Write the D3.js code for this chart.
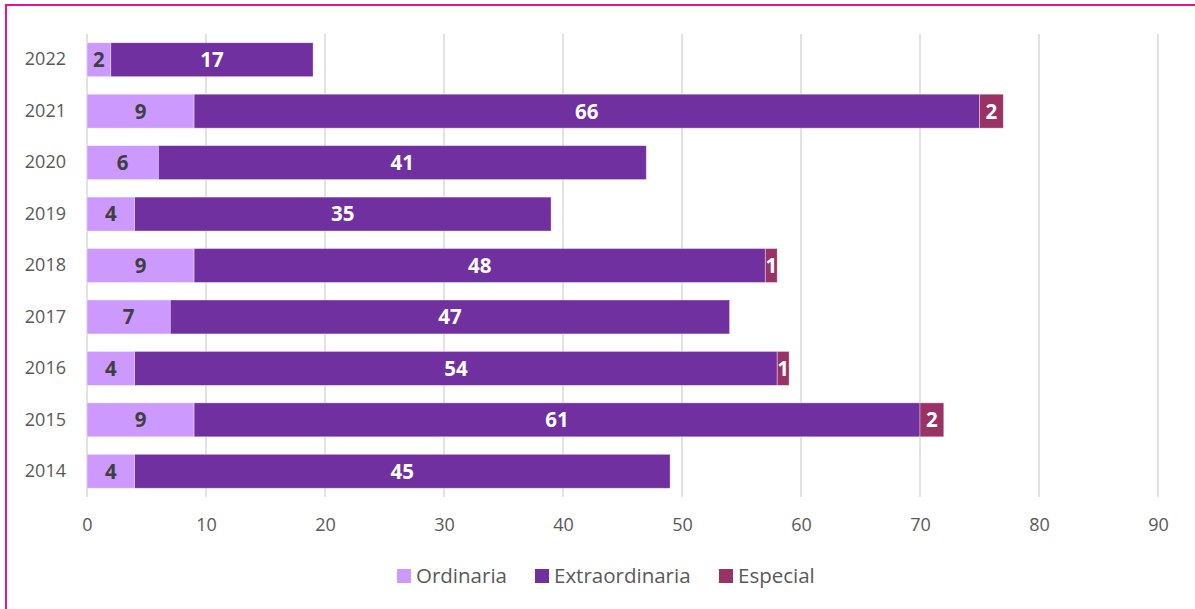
<!DOCTYPE html>
<html>
<head>
<meta charset="utf-8">
<script src="https://cdn.jsdelivr.net/npm/d3@7"></script>
<style>
  body { margin: 0; background: #fff; }
  svg text { font-family: "Open Sans", "Noto Sans", sans-serif; }
</style>
</head>
<body>
<div id="chart"></div>
<script>
var years = ["2022", "2021", "2020", "2019", "2018", "2017", "2016", "2015", "2014"];
var ordinaria = [2, 9, 6, 4, 9, 7, 4, 9, 4];
var extraordinaria = [17, 66, 41, 35, 48, 47, 54, 61, 45];
var especial = [0, 2, 0, 0, 1, 0, 1, 2, 0];
var seriesNames = ["Ordinaria", "Extraordinaria", "Especial"];
var xTicks = [0, 10, 20, 30, 40, 50, 60, 70, 80, 90];

var width = 1195;
var height = 609;
var colors = ["#cc99ff", "#7030a0", "#993366"];
var labelColors = ["#404040", "#ffffff", "#ffffff"];

var svg = d3.select("#chart")
  .append("svg")
  .attr("width", width)
  .attr("height", height);

// chart frame
svg.append("rect")
  .attr("x", 6)
  .attr("y", 5)
  .attr("width", width + 10)
  .attr("height", height + 10)
  .attr("fill", "none")
  .attr("stroke", "#e2149a")
  .attr("stroke-width", 2);

var rows = years.map(function(y, i) {
  return { year: y, Ordinaria: ordinaria[i], Extraordinaria: extraordinaria[i], Especial: especial[i] };
});

var x = d3.scaleLinear().domain([0, 90]).range([87, 1158]);
var y = d3.scaleBand().domain(years).range([34, 497]).paddingInner(0.34).paddingOuter(0.17);

// gridlines
svg.append("g")
  .selectAll("line")
  .data(xTicks)
  .enter()
  .append("line")
  .attr("x1", function(d) { return x(d); })
  .attr("x2", function(d) { return x(d); })
  .attr("y1", 34)
  .attr("y2", 497)
  .attr("stroke", "#d9d9d9")
  .attr("stroke-width", 1.5);

var stack = d3.stack().keys(seriesNames)(rows);

var layers = svg.selectAll("g.layer")
  .data(stack)
  .enter()
  .append("g")
  .attr("class", "layer")
  .attr("fill", function(d, i) { return colors[i]; });

layers.selectAll("rect")
  .data(function(d) { return d; })
  .enter()
  .filter(function(d) { return d[1] > d[0]; })
  .append("rect")
  .attr("x", function(d) { return x(d[0]); })
  .attr("y", function(d) { return y(d.data.year); })
  .attr("width", function(d) { return x(d[1]) - x(d[0]); })
  .attr("height", y.bandwidth())
  .attr("stroke", "#ffffff")
  .attr("stroke-opacity", 0.5)
  .attr("stroke-width", 0.75);

layers.each(function(layer, i) {
  d3.select(this).selectAll("text")
    .data(layer.filter(function(d) { return d[1] > d[0]; }))
    .enter()
    .append("text")
    .attr("x", function(d) { return (x(d[0]) + x(d[1])) / 2; })
    .attr("y", function(d) { return y(d.data.year) + y.bandwidth() / 2; })
    .attr("dy", "0.36em")
    .attr("text-anchor", "middle")
    .style("font-size", "20.5px")
    .style("font-weight", "bold")
    .attr("fill", labelColors[i])
    .text(function(d) { return d[1] - d[0]; });
});

// y axis labels
var yAxis = d3.axisLeft(y).tickSize(0).tickPadding(21);
var gy = svg.append("g")
  .attr("transform", "translate(87,0)")
  .call(yAxis);
gy.select(".domain").remove();
gy.selectAll("text")
  .style("font-size", "18px")
  .style("font-family", "'Open Sans', sans-serif")
  .attr("fill", "#595959");

// x axis labels
var xAxis = d3.axisBottom(x).tickValues(xTicks).tickSize(0).tickPadding(21);
var gx = svg.append("g")
  .attr("transform", "translate(0,497)")
  .call(xAxis);
gx.select(".domain").remove();
gx.selectAll("text")
  .style("font-size", "18px")
  .style("font-family", "'Open Sans', sans-serif")
  .attr("fill", "#595959");

// legend
var legendX = [397, 535, 719];
var legend = svg.append("g")
  .selectAll("g")
  .data(seriesNames)
  .enter()
  .append("g")
  .attr("transform", function(d, i) { return "translate(" + legendX[i] + ",569)"; });

legend.append("rect")
  .attr("width", 14)
  .attr("height", 14)
  .attr("fill", function(d, i) { return colors[i]; });

legend.append("text")
  .attr("x", 19)
  .attr("y", 7)
  .attr("dy", "0.36em")
  .style("font-size", "20.5px")
  .attr("fill", "#595959")
  .text(function(d) { return d; });
</script>
</body>
</html>
